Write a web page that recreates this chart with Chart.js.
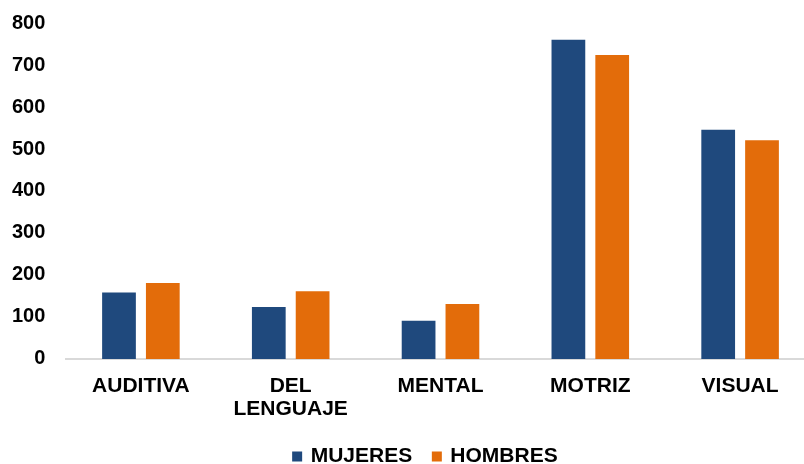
<!DOCTYPE html>
<html>
<head>
<meta charset="utf-8">
<script src="https://cdn.jsdelivr.net/npm/chart.js@4"></script>
<style>
html, body { margin: 0; padding: 0; background: #fff; overflow: hidden; }
#wrap { width: 830px; height: 464px; }
</style>
</head>
<body>
<div id="wrap"><canvas id="discapacidadChart" width="830" height="464"></canvas></div>
<script>
var categories = ['AUDITIVA', ['DEL', 'LENGUAJE'], 'MENTAL', 'MOTRIZ', 'VISUAL'];
var mujeres = [158, 124, 91, 760, 546];
var hombres = [181, 161, 131, 724, 521];
var yTicks = [0, 100, 200, 300, 400, 500, 600, 700, 800];
var seriesNames = ['MUJERES', 'HOMBRES'];
// trailing spaces only widen the legend items so they sit like the original
var legendSpacing = ['  ', '     '];

Chart.defaults.font.family = '"Liberation Sans", Arial, sans-serif';
Chart.defaults.font.weight = 'bold';
Chart.defaults.color = '#000';

var discapacidadChart = new Chart(document.getElementById('discapacidadChart'), {
    type: 'bar',
    data: {
        labels: categories,
        datasets: [{
            label: seriesNames[0],
            data: mujeres,
            backgroundColor: '#1F497D',
            categoryPercentage: 0.585,
            barPercentage: 0.77
        },
        {
            label: seriesNames[1],
            data: hombres,
            backgroundColor: '#E36C0A',
            categoryPercentage: 0.585,
            barPercentage: 0.77
        }]
    },
    options: {
        responsive: false,
        animation: false,
        layout: {
            padding: { top: 23, left: 66, right: 15, bottom: -13 }
        },
        plugins: {
            tooltip: { enabled: false },
            legend: {
                position: 'bottom',
                labels: {
                    boxWidth: 6,
                    boxHeight: 6,
                    padding: 10,
                    font: { size: 21, weight: 'bold' },
                    generateLabels: function(chart) {
                        var items = Chart.defaults.plugins.legend.labels.generateLabels(chart);
                        items.forEach(function(item, i) {
                            item.text = item.text + legendSpacing[i];
                            item.strokeStyle = item.fillStyle;
                            item.lineWidth = 4;
                        });
                        return items;
                    }
                }
            }
        },
        scales: {
            x: {
                grid: { display: false, drawTicks: false },
                border: { display: true, color: '#d9d9d9', width: 2 },
                ticks: {
                    padding: 15,
                    maxRotation: 0,
                    autoSkip: false,
                    font: { size: 21, weight: 'bold', lineHeight: 1.12 }
                }
            },
            y: {
                min: 0,
                max: 800,
                afterBuildTicks: function(axis) {
                    axis.ticks = yTicks.map(function(v) { return { value: v }; });
                },
                grid: { display: false, drawTicks: false },
                border: { display: false },
                ticks: {
                    mirror: true,
                    crossAlign: 'far',
                    padding: -18,
                    font: { size: 20, weight: 'bold' }
                }
            }
        }
    }
});
</script>
</body>
</html>
